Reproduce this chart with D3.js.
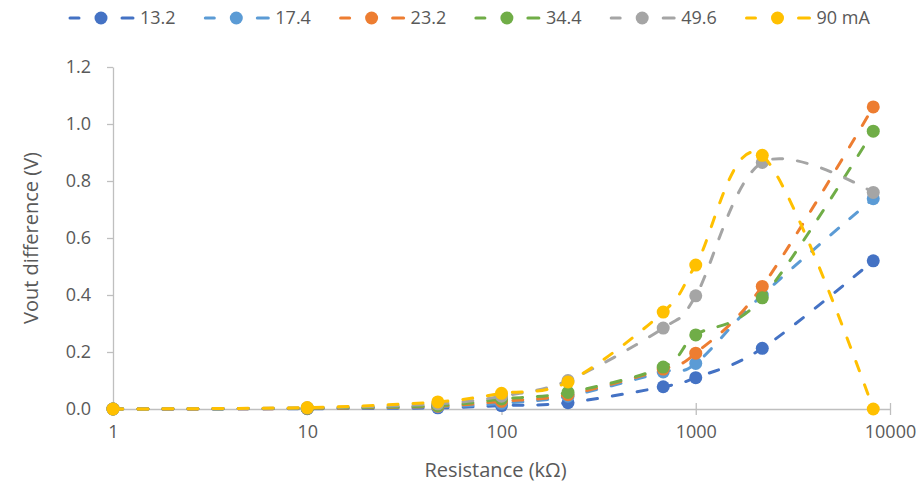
<!DOCTYPE html>
<html>
<head>
<meta charset="utf-8">
<script src="https://cdn.jsdelivr.net/npm/d3@7"></script>
<style>
  body { margin: 0; background: #fff; }
  text { font-family: "Open Sans", Arial, sans-serif; fill: #595959; }
</style>
</head>
<body>
<div class="canvas"></div>
<script>
// data
const resistance = [1, 10, 47, 100, 220, 680, 1000, 2200, 8200];
const seriesNames = ['13.2', '17.4', '23.2', '34.4', '49.6', '90 mA'];
const s13_2 = [0, 0.001, 0.004, 0.012, 0.022, 0.078, 0.11, 0.213, 0.52];
const s17_4 = [0, 0.002, 0.008, 0.02, 0.045, 0.13, 0.16, 0.40, 0.738];
const s23_2 = [0, 0.002, 0.01, 0.027, 0.05, 0.14, 0.196, 0.43, 1.06];
const s34_4 = [0, 0.003, 0.012, 0.035, 0.058, 0.147, 0.26, 0.39, 0.975];
const s49_6 = [0, 0.004, 0.018, 0.045, 0.1, 0.284, 0.397, 0.865, 0.76];
const s90 = [0, 0.005, 0.025, 0.055, 0.095, 0.34, 0.505, 0.89, 0.0];
const xTicks = [1, 10, 100, 1000, 10000];
const yTicks = [0, 0.2, 0.4, 0.6, 0.8, 1.0, 1.2];

const colors = ['#4472C4', '#5B9BD5', '#ED7D31', '#70AD47', '#A5A5A5', '#FFC000'];
const allSeries = [s13_2, s17_4, s23_2, s34_4, s49_6, s90];

const width = 922, height = 487;
const margin = { top: 67, right: 32, bottom: 78, left: 113 };
const graphWidth = width - margin.left - margin.right;
const graphHeight = height - margin.top - margin.bottom;

const svg = d3.select('.canvas').append('svg')
    .attr('width', width)
    .attr('height', height);

const graph = svg.append('g')
    .attr('transform', `translate(${margin.left}, ${margin.top})`);

// scales
const x = d3.scaleLog().domain([1, 10000]).range([0, graphWidth]);
const y = d3.scaleLinear().domain([0, 1.2]).range([graphHeight, 0]);

// axes
const xAxisGroup = graph.append('g')
    .attr('transform', `translate(0, ${graphHeight})`)
    .call(d3.axisBottom(x).tickValues(xTicks).tickFormat(d3.format('d')).tickSize(6).tickSizeOuter(0));
xAxisGroup.selectAll('.tick line').attr('y1', -6);

const yAxisGroup = graph.append('g')
    .call(d3.axisLeft(y).tickValues(yTicks).tickFormat(d3.format('.1f')).tickSize(6).tickSizeOuter(0));

[xAxisGroup, yAxisGroup].forEach(g => {
  g.select('.domain').attr('stroke', '#BFBFBF').attr('stroke-width', 1.3);
  g.selectAll('.tick line').attr('stroke', '#BFBFBF').attr('stroke-width', 1.3);
  g.selectAll('text').style('font-size', '18px').attr('fill', '#595959');
});
xAxisGroup.selectAll('text').attr('dy', '1.1em');
yAxisGroup.selectAll('text').attr('x', -22);

// axis titles
svg.append('text')
    .attr('x', margin.left + graphWidth / 2 - 6)
    .attr('y', 477)
    .attr('text-anchor', 'middle')
    .style('font-size', '20px')
    .text('Resistance (kΩ)');

svg.append('text')
    .attr('transform', `translate(38, ${margin.top + graphHeight / 2}) rotate(-90)`)
    .attr('text-anchor', 'middle')
    .style('font-size', '20px')
    .text('Vout difference (V)');

// lines + markers
const line = d3.line()
    .x(d => x(d[0]))
    .y(d => y(d[1]))
    .curve(d3.curveCatmullRom.alpha(0));

allSeries.forEach((vals, i) => {
  const pts = resistance.map((r, j) => [r, vals[j]]);
  const g = graph.append('g');
  g.append('path')
      .attr('d', line(pts))
      .attr('fill', 'none')
      .attr('stroke', colors[i])
      .attr('stroke-width', 3)
      .attr('stroke-dasharray', '10,15')
      .attr('stroke-linecap', 'round');
  g.selectAll('circle')
      .data(pts)
      .enter()
      .append('circle')
      .attr('cx', d => x(d[0]))
      .attr('cy', d => y(d[1]))
      .attr('r', 6.5)
      .attr('fill', colors[i]);
});

// legend
const legend = svg.append('g').attr('transform', 'translate(68, 18)');
seriesNames.forEach((name, i) => {
  const item = legend.append('g').attr('transform', `translate(${i * 135.3}, 0)`);
  item.append('line').attr('x1', 2).attr('x2', 11).attr('stroke', colors[i])
      .attr('stroke-width', 3).attr('stroke-linecap', 'round');
  item.append('circle').attr('cx', 33).attr('cy', 0).attr('r', 6.5).attr('fill', colors[i]);
  item.append('line').attr('x1', 54).attr('x2', 65).attr('stroke', colors[i])
      .attr('stroke-width', 3).attr('stroke-linecap', 'round');
  item.append('text').attr('x', 72).attr('y', 0).attr('dy', '0.35em')
      .style('font-size', '18px').text(name);
});
</script>
</body>
</html>
